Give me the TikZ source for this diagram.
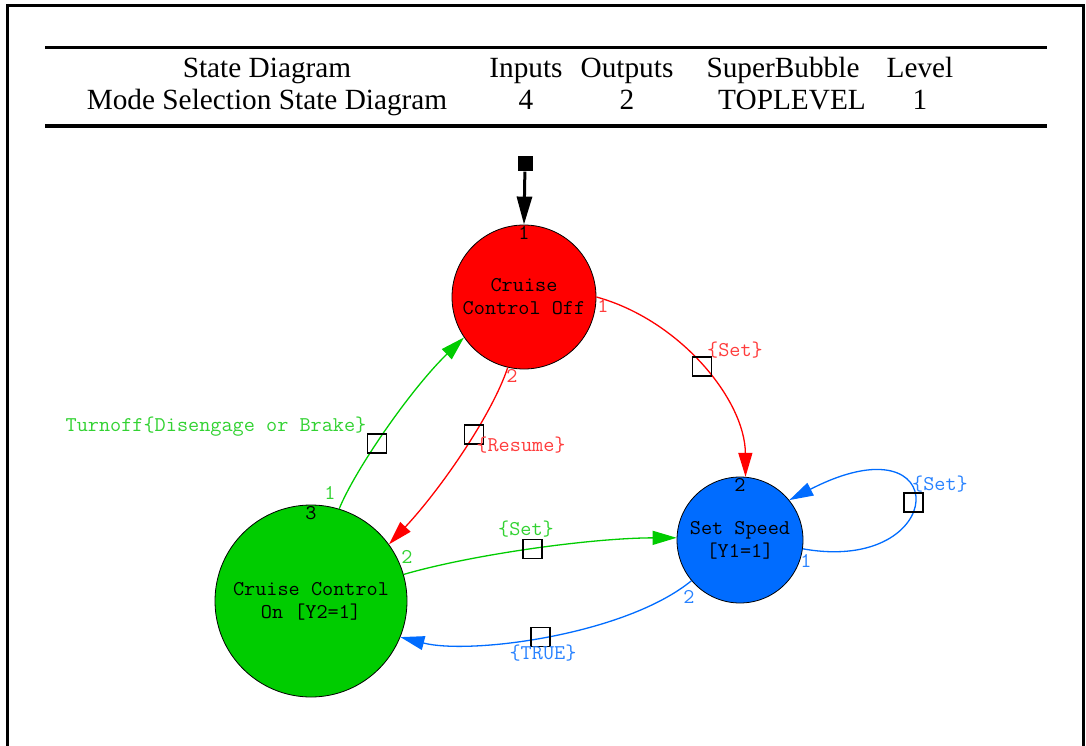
\documentclass[tikz,border=0pt]{standalone}
\usepackage{fontspec}
\setmainfont{Liberation Serif}
\setmonofont{Latin Modern Mono}[FakeStretch=1.03]
\usetikzlibrary{arrows.meta,positioning}
\definecolor{offred}{RGB}{255,0,0}
\definecolor{ongreen}{RGB}{0,204,0}
\definecolor{setblue}{RGB}{0,108,255}
\definecolor{redtxt}{RGB}{255,60,60}
\definecolor{greentxt}{RGB}{50,210,50}
\definecolor{bluetxt}{RGB}{40,130,255}
\tikzset{
  state/.style = {circle, draw=black, thick, inner sep=0pt, align=center,
                  font=\fontsize{21}{23}\selectfont\ttfamily},
  gate/.style = {draw=black, line width=1.6pt, fill=none, minimum size=19pt, inner sep=0pt},
  numtxt/.style = {inner sep=0pt, font=\fontsize{21}{20}\selectfont\ttfamily},
  edgetxt/.style = {inner sep=0pt, font=\fontsize{21}{22}\selectfont\ttfamily},
  headtxt/.style = {inner sep=0pt, anchor=base, font=\fontsize{29.3}{32}\selectfont},
  trans/.style = {-{Triangle[length=24pt,width=14pt]}, line width=1.3pt}
}

\begin{document}
\begin{tikzpicture}[x=1pt,y=-1pt]
  \useasboundingbox (0,0) rectangle (1086,746);
  % frame
  \draw[line width=3pt] (7,760) -- (7,6) -- (1083,6) -- (1083,760);
  % header table
  \draw[line width=3pt] (45,48) -- (1047,48);
  \draw[line width=4pt] (45,126) -- (1047,126);
  \node[headtxt] (hd1) at (267,78) {State Diagram};
  \node[headtxt] (hd2) at (526,78) {Inputs};
  \node[headtxt] (hd3) at (627,78) {Outputs};
  \node[headtxt] (hd4) at (783,78) {SuperBubble};
  \node[headtxt] (hd5) at (920,78) {Level};
  \node[headtxt] (rw1) at (267,110) {Mode Selection State Diagram};
  \node[headtxt] (rw2) at (526,110) {4};
  \node[headtxt] (rw3) at (627,110) {2};
  \node[headtxt] (rw4) at (792,110) {TOPLEVEL};
  \node[headtxt] (rw5) at (920,110) {1};
  % states
  \node[state, fill=offred, minimum size=144pt] (off) at (524,297) {Cruise\\Control Off};
  \node[state, fill=setblue, minimum size=126pt] (speed) at (740,540) {Set Speed\\{[Y1=1]}};
  \node[state, fill=ongreen, minimum size=192pt] (on) at (311,601) {Cruise Control\\On {[Y2=1]}};
  \node[numtxt, below=2pt of off.north] (offnum) {1};
  \node[numtxt, below=2pt of speed.north] (speednum) {2};
  \node[numtxt, below=2pt of on.north] (onnum) {3};
  % initial state
  \node[fill=black, minimum size=15pt, inner sep=0pt] (init) at (525,164) {};
  \draw[-{Triangle[length=28pt,width=15pt]}, line width=3pt] (init) -- (off.north);
  % Off -> Set Speed
  \draw[trans, offred] (off.0) .. controls (680,320) and (745,400) .. (speed.85)
    node[gate, pos=0.5] (g1) {};
  \node[edgetxt, redtxt] (t1) at (603,306) {1};
  \node[edgetxt, redtxt] (l1) at (735,350) {\{Set\}};
  % Off -> On
  \draw[trans, offred] (off.257) .. controls (492,415) and (440,490) .. (on.36)
    node[gate, pos=0.4] (g2) {};
  \node[edgetxt, redtxt] (t2) at (512,376) {2};
  \node[edgetxt, redtxt] (l2) at (521,445) {\{Resume\}};
  % On -> Off
  \draw[trans, ongreen] (on.73) .. controls (355,470) and (410,390) .. (off.214)
    node[gate, pos=0.42] (g3) {};
  \node[edgetxt, greentxt] (t3) at (330,493) {1};
  \node[edgetxt, greentxt] (l3) at (216,427) {Turnoff\{Disengage or Brake\}};
  % On -> Set Speed
  \draw[trans, ongreen] (on.16) .. controls (470,555) and (590,538) .. (speed.178)
    node[gate, pos=0.5] (g4) {};
  \node[edgetxt, greentxt] (t4) at (407,557) {2};
  \node[edgetxt, greentxt] (l4) at (526,529) {\{Set\}};
  % Set Speed -> On
  \draw[trans, setblue] (speed.220) .. controls (625,635) and (470,655) .. (on.-22)
    node[gate, pos=0.52] (g5) {};
  \node[edgetxt, bluetxt] (t5) at (689,597) {2};
  \node[edgetxt, bluetxt] (l5) at (543,653) {\{TRUE\}};
  % Set Speed self loop
  \draw[trans, setblue] (speed.-8) .. controls (950,575) and (955,415) .. (speed.39)
    node[gate, pos=0.5] (g6) {};
  \node[edgetxt, bluetxt] (t6) at (806,561) {1};
  \node[edgetxt, bluetxt] (l6) at (940,484) {\{Set\}};
\end{tikzpicture}
\end{document}
